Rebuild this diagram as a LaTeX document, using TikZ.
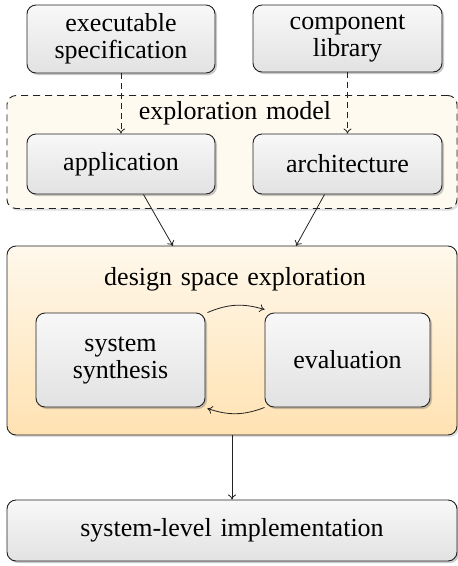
\documentclass[tikz,border=0pt]{standalone}
\usepackage{fontspec}
\setmainfont{Liberation Serif}
\newfontfamily\diagfont{Liberation Serif}[WordSpace={1.35,1,1}]
\usetikzlibrary{arrows.meta,shadows,positioning}
\definecolor{boxtop}{HTML}{F8F8F8}
\definecolor{boxbot}{HTML}{E2E2E2}
\definecolor{explfill}{HTML}{FFFAF0}
\definecolor{dsetop}{HTML}{FFF8EC}
\definecolor{dsebot}{HTML}{FFE2B2}
\definecolor{edge}{HTML}{222222}
\tikzset{
  every node/.style={font=\diagfont\fontsize{26}{27}\selectfont},
  graybox/.style={draw=edge, line width=0.9pt, rounded corners=9pt,
    top color=boxtop, bottom color=boxbot, align=center, inner sep=0pt,
    drop shadow={shadow xshift=2pt, shadow yshift=-2pt, opacity=0.35, fill=black!60}},
  bigbox/.style={draw=edge, line width=0.9pt, rounded corners=9pt, inner sep=0pt,
    drop shadow={shadow xshift=2pt, shadow yshift=-2pt, opacity=0.25, fill=black!50}},
  arr/.style={draw=edge, line width=0.8pt, -{To[length=5pt,width=8pt]}},
  darr/.style={arr, dash pattern=on 6pt off 4pt},
}
\begin{document}
\begin{tikzpicture}[x=1pt,y=-1pt]
\useasboundingbox (0,0) rectangle (458,566);
% exploration model
\node[bigbox, dash pattern=on 7pt off 5pt, fill=explfill, minimum width=450pt, minimum height=113pt] (expl) at (232,152) {};
\node (expllabel) at (235,113) {exploration model};
% dse
\node[bigbox, top color=dsetop, bottom color=dsebot, minimum width=450pt, minimum height=189pt] (dse) at (232,340.5) {};
\node (dselabel) at (235,279) {design space exploration};
% boxes
\node[graybox, minimum width=188pt, minimum height=68pt] (spec) at (121,39) {executable\\specification};
\node[graybox, minimum width=189pt, minimum height=67pt] (lib) at (347.5,38.5) {component\\library};
\node[graybox, minimum width=188pt, minimum height=60pt] (app) at (121,164) {application};
\node[graybox, minimum width=189pt, minimum height=60pt] (arch) at (347.5,164) {architecture};
\node[graybox, minimum width=169pt, minimum height=94pt] (syn) at (120.5,360) {system\\synthesis};
\node[graybox, minimum width=165pt, minimum height=94pt] (eval) at (347.5,360) {evaluation};
\node[graybox, minimum width=450pt, minimum height=61pt] (impl) at (232,530.5) {system-level implementation};
% connectors
\draw[darr] (spec.south) -- (app.north);
\draw[darr] (lib.south) -- (arch.north);
\draw[arr] (app.south east) ++(-72pt,0) coordinate (a1) -- (173,246);
\draw[arr] (arch.south west) ++(72pt,0) coordinate (a2) -- (296,246);
\draw[arr] (syn.north east) ++(2pt,0) to[bend left=20] ([yshift=3pt]eval.north west);
\draw[arr] (eval.south west) ++(0,0) to[bend left=20] ([xshift=2pt,yshift=-1pt]syn.south east);
\draw[arr] (dse.south) -- (impl.north);
\end{tikzpicture}
\end{document}
